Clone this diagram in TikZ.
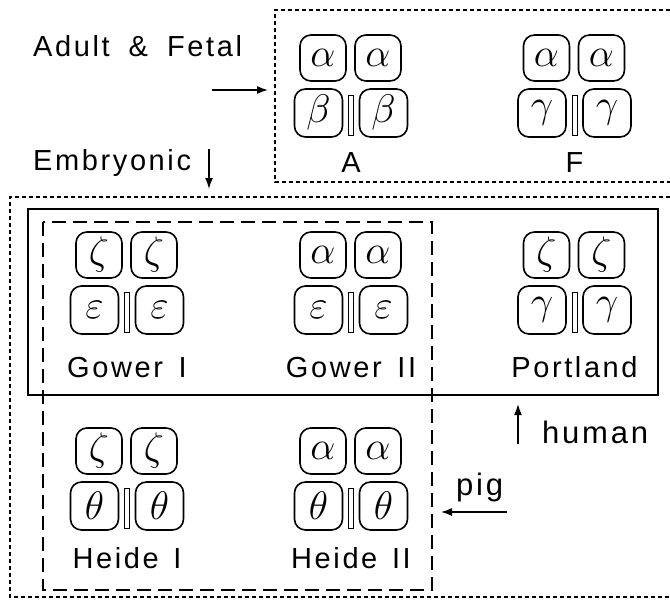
\documentclass[tikz,border=0pt]{standalone}
\usepackage{graphicx}
\usepackage{fontspec}
\setmainfont{Liberation Sans}
\newfontfamily\labfont{Liberation Sans}[LetterSpace=9]
\usetikzlibrary{arrows.meta}
\newcommand\gk[1]{\scalebox{1.6}{$#1$}}
\newcommand\molec[7]{%
  \node[topbox] (#1tl) at ({#2-28},{#3+23}) {\gk{#4}};
  \node[topbox] (#1tr) at ({#2+27},{#3+23}) {\gk{#4}};
  \node[botbox] (#1bl) at ({#2-32.5},{#3+78}) {\gk{#5}};
  \node[botbox] (#1br) at ({#2+32.5},{#3+78}) {\gk{#5}};
  \node[barbox] (#1bar) at (#2,{#3+80}) {};
  \node[labtext, anchor=base] (#1lab) at (#2,#7) {#6};
}
\begin{document}
\begin{tikzpicture}[x=1pt,y=-1pt,
  greek/.style={font=\fontsize{24.88}{25}\selectfont, inner sep=0pt, line width=1.6pt, rounded corners=11pt, draw},
  topbox/.style={greek, minimum width=46pt, minimum height=46pt},
  botbox/.style={greek, minimum width=48pt, minimum height=48pt},
  barbox/.style={draw, line width=1pt, minimum width=5pt, minimum height=40pt, inner sep=0pt},
  labtext/.style={font=\labfont\fontsize{29}{29}\selectfont, inner sep=0pt},
  bigtext/.style={font=\labfont\fontsize{31}{31}\selectfont, inner sep=0pt},
  dotline/.style={line width=1.8pt, dash pattern=on 4pt off 3pt},
  dashline/.style={line width=1.3pt, dash pattern=on 14pt off 7pt},
  solidline/.style={line width=1.5pt},
  arr/.style={line width=1.5pt, -{Latex[length=11pt,width=8pt]}}
]
\useasboundingbox (0,0) rectangle (670,606);
% boxes
\draw[dotline] (670,10) -- (275,10) -- (275,182) -- (670,182);
\draw[dotline] (670,197) -- (10,197) -- (10,597) -- (670,597);
\draw[solidline] (28,209) rectangle (658,395);
\draw[dashline] (43,222) rectangle (432,590);
% molecules
\molec{A}{351}{35}{\alpha}{\beta}{A}{172}
\molec{F}{574.5}{35}{\alpha}{\gamma}{F}{172}
\molec{G}{127}{232}{\zeta}{\varepsilon}{Gower \hspace{5pt}I}{377}
\molec{GG}{351}{232}{\alpha}{\varepsilon}{Gower \hspace{5pt}II}{377}
\molec{P}{574.5}{232}{\zeta}{\gamma}{Portland}{377}
\molec{H}{127}{428}{\zeta}{\theta}{Heide \hspace{4pt}I}{568}
\molec{HH}{351}{428}{\alpha}{\theta}{Heide \hspace{4pt}II}{568}
% labels
\node[labtext, anchor=base west] (adult) at (33,56) {Adult\hspace{19pt}\&\hspace{19pt}Fetal};
\node[labtext, anchor=base west] (emb) at (33,170) {Embryonic};
\node[bigtext, anchor=base west] (human) at (542,443) {human};
\node[bigtext, anchor=base west] (pig) at (456,495) {pig};
% arrows
\coordinate (a1) at (212,90); \coordinate (a2) at (268,90);
\coordinate (e1) at (209,149); \coordinate (e2) at (209,189);
\coordinate (h1) at (518,444); \coordinate (h2) at (518,404);
\coordinate (p1) at (507,512); \coordinate (p2) at (441,512);
\draw[arr] (a1) -- (a2);
\draw[arr] (e1) -- (e2);
\draw[arr] (h1) -- (h2);
\draw[arr] (p1) -- (p2);
\end{tikzpicture}
\end{document}
